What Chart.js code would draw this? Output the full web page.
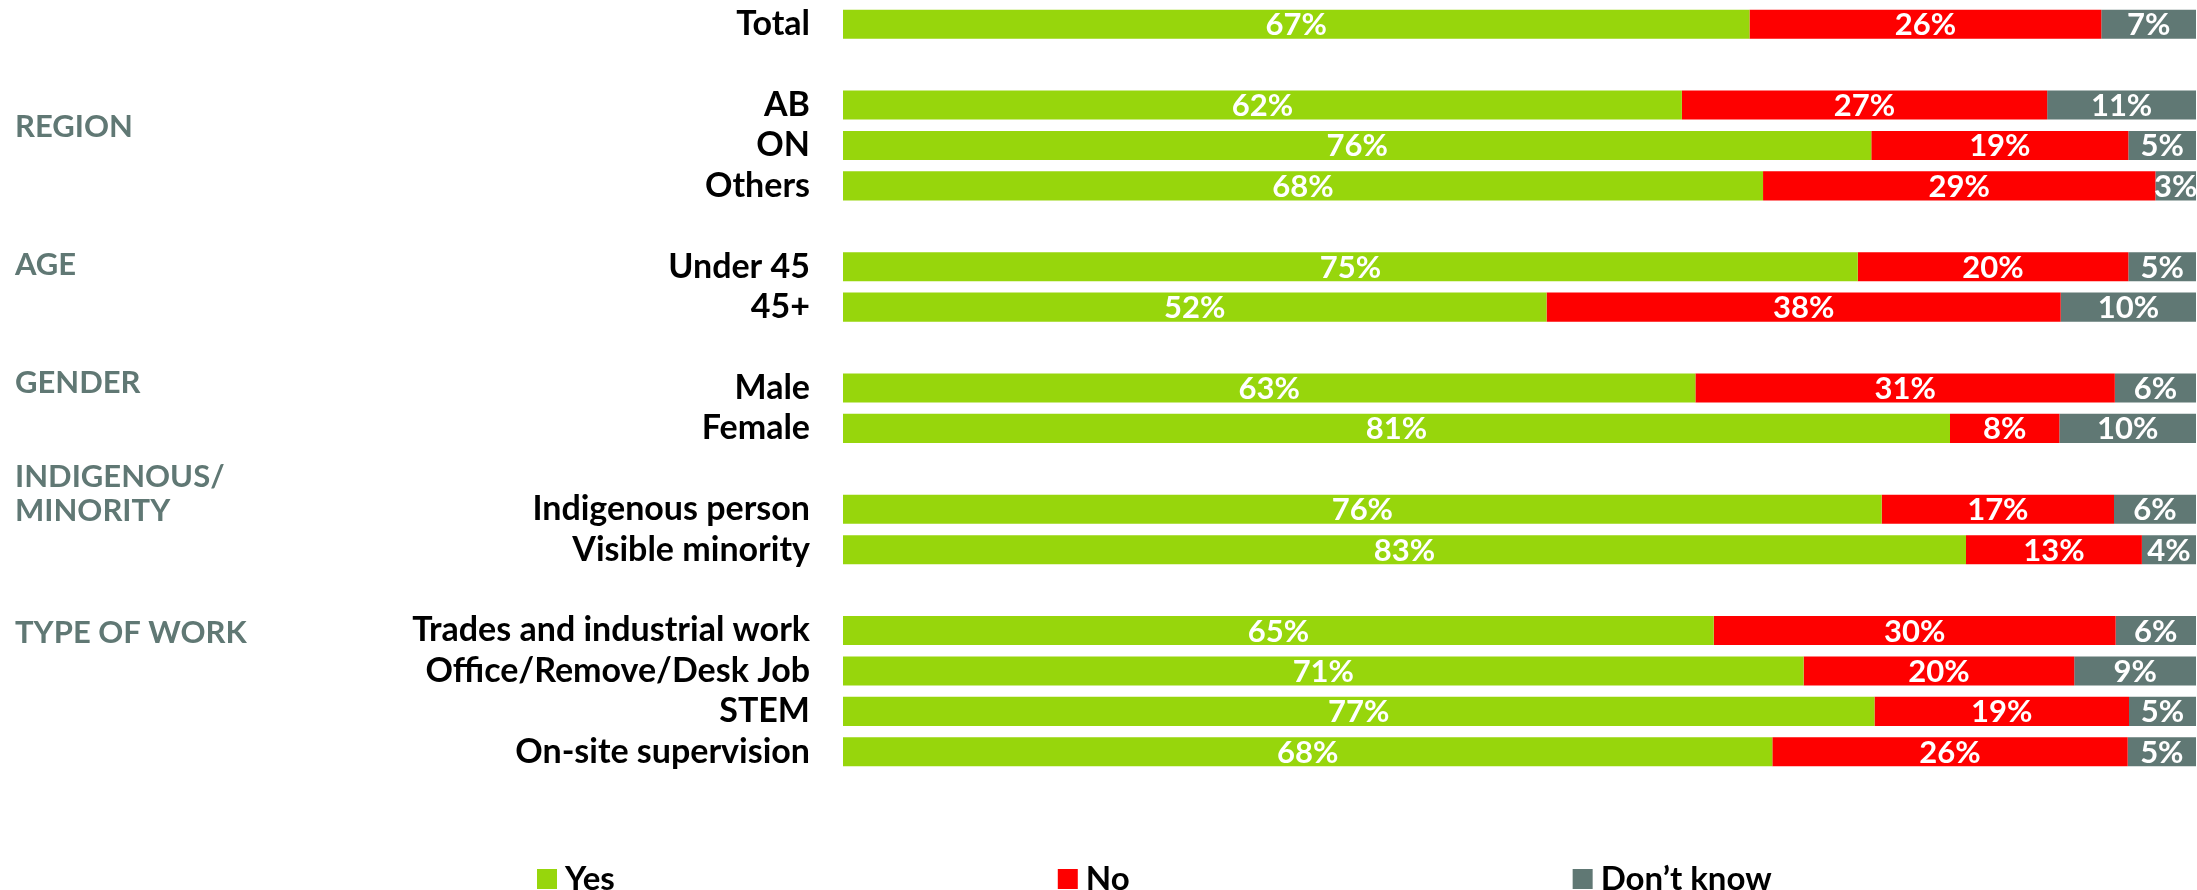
<!DOCTYPE html>
<html>
<head>
<meta charset="utf-8">
<script src="https://cdn.jsdelivr.net/npm/chart.js@4"></script>
<style>
  html, body { margin: 0; padding: 0; background: #fff; }
  #wrap { width: 2197px; height: 890px; }
</style>
</head>
<body>
<div id="wrap"><canvas id="chart" width="2197" height="890"></canvas></div>
<script>
// categories in drawing order, groups come after 'Total'
const categories = ['Total', 'AB', 'ON', 'Others', 'Under 45', '45+', 'Male', 'Female',
  'Indigenous person', 'Visible minority', 'Trades and industrial work',
  'Office/Remove/Desk Job', 'STEM', 'On-site supervision'];
const groupNames = ['REGION', 'AGE', 'GENDER', 'INDIGENOUS/\nMINORITY', 'TYPE OF WORK'];
const groupSizes = [3, 2, 2, 2, 4];

const seriesNames = ['Yes', 'No', 'Don\u2019t know'];
const yesValues = [67, 62, 76, 68, 75, 52, 63, 81, 76, 83, 65, 71, 77, 68];
const noValues = [26, 27, 19, 29, 20, 38, 31, 8, 17, 13, 30, 20, 19, 26];
const dkValues = [7, 11, 5, 3, 5, 10, 6, 10, 6, 4, 6, 9, 5, 5];

const colors = ['#97d60c', '#fe0000', '#607874'];
const groupColor = '#607874';
// where each group title sits, relative to its first row
const groupOffsets = [0.52, -0.08, -0.15, -0.4, 0.03];

const FONT = 'Lato, "Open Sans", sans-serif';

// build rows with a blank spacer before each group
const rows = [];
const rowIndex = [];
let groupFirstRow = [];
let c = 0;
rows.push(categories[c]); rowIndex.push(c); c++;
groupSizes.forEach((n) => {
  rows.push(''); rowIndex.push(null);
  groupFirstRow.push(rows.length);
  for (let i = 0; i < n; i++) { rows.push(categories[c]); rowIndex.push(c); c++; }
});

const raw = [yesValues, noValues, dkValues];
// bars fill the full width, so scale each row to its own total
const datasets = raw.map((vals, s) => ({
  label: seriesNames[s],
  backgroundColor: colors[s],
  data: rowIndex.map((k) => {
    if (k === null) return null;
    const tot = yesValues[k] + noValues[k] + dkValues[k];
    return vals[k] / tot * 100;
  }),
  rawValues: rowIndex.map((k) => (k === null ? null : vals[k])),
  barPercentage: 0.72,
  categoryPercentage: 1,
}));

const labelPlugin = {
  id: 'segLabels',
  afterDatasetsDraw(chart) {
    const ctx = chart.ctx;
    ctx.save();
    ctx.fillStyle = '#fff';
    ctx.font = '700 31px ' + FONT;
    ctx.textAlign = 'center';
    ctx.textBaseline = 'middle';
    chart.data.datasets.forEach((ds, i) => {
      chart.getDatasetMeta(i).data.forEach((bar, j) => {
        const v = ds.rawValues[j];
        if (v == null) return;
        ctx.fillText(v + '%', (bar.x + bar.base) / 2, bar.y + 1);
      });
    });
    ctx.restore();
  }
};

const groupPlugin = {
  id: 'groupTitles',
  afterDraw(chart) {
    const ctx = chart.ctx;
    const y = chart.scales.y;
    const step = y.getPixelForValue(1) - y.getPixelForValue(0);
    ctx.save();
    ctx.fillStyle = groupColor;
    ctx.font = '700 31px ' + FONT;
    ctx.textAlign = 'left';
    ctx.textBaseline = 'middle';
    groupNames.forEach((name, g) => {
      const lines = name.split('\n');
      const cy = y.getPixelForValue(groupFirstRow[g]) + groupOffsets[g] * step;
      const lh = 34;
      lines.forEach((ln, i) => {
        ctx.fillText(ln, 15, cy + (i - (lines.length - 1) / 2) * lh + 1);
      });
    });

    // legend
    ctx.font = '700 33px ' + FONT;
    let x = 537;
    const ly = 879;
    chart.data.datasets.forEach((ds) => {
      ctx.fillStyle = ds.backgroundColor;
      ctx.fillRect(x, ly - 10, 20, 20);
      ctx.fillStyle = '#000';
      ctx.fillText(ds.label, x + 28, ly);
      x += 28 + ctx.measureText(ds.label).width + 443;
    });
    ctx.restore();
  }
};

new Chart(document.getElementById('chart'), {
  type: 'bar',
  data: { labels: rows, datasets },
  options: {
    indexAxis: 'y',
    responsive: false,
    animation: false,
    layout: { padding: { top: 4, bottom: 118, left: 0, right: 1 } },
    plugins: {
      legend: { display: false },
      tooltip: { enabled: false }
    },
    scales: {
      x: { stacked: true, min: 0, max: 100, display: false },
      y: {
        stacked: true,
        grid: { display: false },
        border: { display: false },
        ticks: {
          color: '#000',
          font: { family: FONT, size: 34, weight: '700' },
          padding: 25,
          autoSkip: false
        },
        afterFit(scale) {
          scale.width = 843;
          scale.paddingTop = 0;
          scale.paddingBottom = 0;
        }
      }
    }
  },
  plugins: [labelPlugin, groupPlugin]
});
</script>
</body>
</html>
